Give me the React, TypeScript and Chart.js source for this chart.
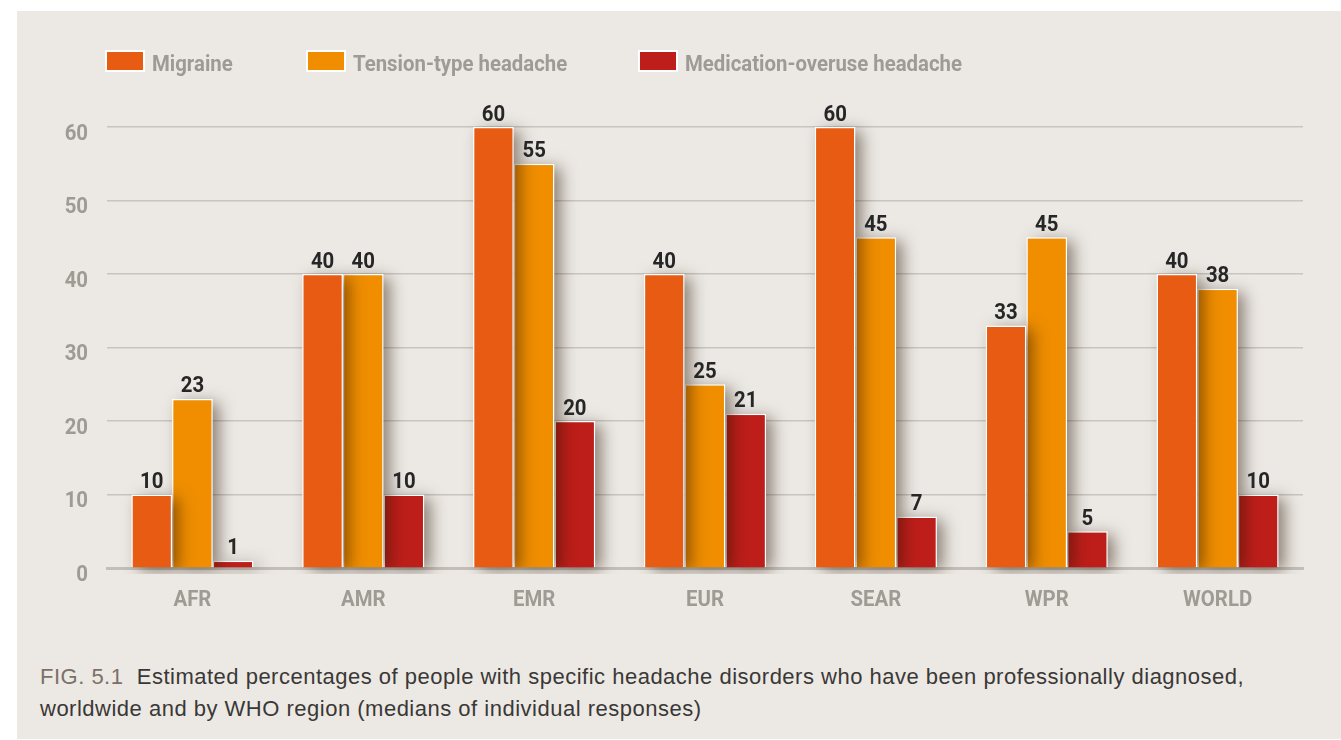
import React, { useEffect, useRef } from "react";
import { Chart, registerables } from "chart.js";

Chart.register(...registerables);

const categories = ["AFR", "AMR", "EMR", "EUR", "SEAR", "WPR", "WORLD"];
const seriesNames = ["Migraine", "Tension-type headache", "Medication-overuse headache"];
const migraine = [10, 40, 60, 40, 60, 33, 40];
const tension = [23, 40, 55, 25, 45, 45, 38];
const overuse = [1, 10, 20, 21, 7, 5, 10];
const seriesColors = ["#E85B12", "#F08E00", "#BE1E1A"];
const yTicks = [0, 10, 20, 30, 40, 50, 60];

const FONT = 'bold 22px Roboto, "Liberation Sans", sans-serif';
const LABEL_GRAY = "#9E9A94";

// condensed look: squeeze text horizontally so the widest legend label fits its reference width
function condenseFactor(ctx: CanvasRenderingContext2D) {
  ctx.save();
  ctx.font = FONT;
  const w = ctx.measureText("Medication-overuse headache").width;
  ctx.restore();
  return Math.min(1, 277 / w);
}

function drawText(ctx: CanvasRenderingContext2D, text: string, x: number, y: number, f: number) {
  ctx.save();
  ctx.translate(x, y);
  ctx.scale(f, 1);
  ctx.fillText(text, 0, 0);
  ctx.restore();
}

// soft drop shadow behind each bar (bars themselves are clipped by Chart.js, so draw it first)
const shadowPlugin = {
  id: "barShadow",
  beforeDatasetDraw(chart: any, args: any) {
    const ctx = chart.ctx as CanvasRenderingContext2D;
    const meta = args.meta;
    const color = chart.data.datasets[args.index].backgroundColor;
    ctx.save();
    ctx.beginPath();
    ctx.rect(chart.chartArea.left, 0, chart.chartArea.right - chart.chartArea.left + 40, chart.chartArea.bottom + 6);
    ctx.clip();
    ctx.shadowColor = "rgba(40,20,0,0.5)";
    ctx.shadowBlur = 16;
    ctx.shadowOffsetX = 7;
    ctx.shadowOffsetY = 3;
    ctx.fillStyle = color;
    meta.data.forEach((bar: any) => {
      const p = bar.getProps(["x", "y", "base", "width"], true);
      ctx.fillRect(p.x - p.width / 2 + 1, p.y + 1, p.width - 2, p.base - p.y - 1);
    });
    ctx.restore();
  },
};

const textPlugin = {
  id: "condensedText",
  afterDraw(chart: any) {
    const ctx = chart.ctx as CanvasRenderingContext2D;
    const f = condenseFactor(ctx);
    const area = chart.chartArea;
    ctx.save();
    ctx.font = FONT;

    // value labels
    ctx.fillStyle = "#262626";
    ctx.textAlign = "center";
    ctx.textBaseline = "bottom";
    chart.data.datasets.forEach((ds: any, i: number) => {
      const meta = chart.getDatasetMeta(i);
      meta.data.forEach((bar: any, j: number) => {
        drawText(ctx, String(ds.data[j]), bar.x, bar.y - 1, f);
      });
    });

    // y tick labels
    ctx.fillStyle = LABEL_GRAY;
    ctx.textAlign = "right";
    ctx.textBaseline = "middle";
    const ys = chart.scales.y;
    yTicks.forEach((v) => {
      drawText(ctx, String(v), area.left - 19, ys.getPixelForValue(v) + 7, f);
    });

    // x tick labels
    ctx.textAlign = "center";
    const xs = chart.scales.x;
    categories.forEach((c, i) => {
      drawText(ctx, c, xs.getPixelForTick(i), area.bottom + 32, f);
    });

    // legend
    const offsets = [0, 201, 533];
    const by = 41;
    ctx.textAlign = "left";
    chart.data.datasets.forEach((ds: any, i: number) => {
      const x = area.left + offsets[i];
      ctx.fillStyle = "#FFFFFF";
      ctx.fillRect(x - 2, by - 2, 40, 22);
      ctx.fillStyle = ds.backgroundColor;
      ctx.fillRect(x, by, 36, 18);
      ctx.fillStyle = LABEL_GRAY;
      drawText(ctx, ds.label, x + 45, by + 13, f);
    });
    ctx.restore();
  },
};

export default function App() {
  const ref = useRef<HTMLCanvasElement>(null);

  useEffect(() => {
    if (!ref.current) return;
    const series = [migraine, tension, overuse];
    const chart = new Chart(ref.current, {
      type: "bar",
      data: {
        labels: categories,
        datasets: series.map((d, i) => ({
          label: seriesNames[i],
          data: d,
          backgroundColor: seriesColors[i],
          borderColor: "#FFFFFF",
          borderWidth: 1.5,
          borderSkipped: "bottom",
          categoryPercentage: 0.715,
          barPercentage: 1,
        })),
      },
      options: {
        responsive: false,
        animation: false,
        events: [],
        layout: { padding: { left: 20, right: 38, top: 116, bottom: 10 } },
        plugins: {
          legend: { display: false },
          tooltip: { enabled: false },
        },
        scales: {
          x: {
            grid: { display: false, drawTicks: false },
            border: { display: true, color: "#C3BFB8", width: 3 },
            ticks: { display: false },
            afterFit(scale: any) {
              scale.height = 63;
            },
          },
          y: {
            min: 0,
            max: 60,
            afterBuildTicks(scale: any) {
              scale.ticks = yTicks.map((v) => ({ value: v }));
            },
            grid: { color: "#C8C4BE", lineWidth: 1.5, drawTicks: false },
            border: { display: false },
            ticks: { display: false },
            afterFit(scale: any) {
              scale.width = 70;
            },
          },
        },
      },
      plugins: [shadowPlugin, textPlugin],
    });
    return () => chart.destroy();
  }, []);

  return (
    <div style={{ position: "absolute", left: 0, top: 0, width: 1341, height: 740, background: "#FFFFFF", overflow: "hidden" }}>
      <div style={{ position: "absolute", left: 17, top: 11, width: 1324, height: 728, background: "#ECE9E4" }}>
        <canvas ref={ref} width={1324} height={630} style={{ position: "absolute", left: 0, top: 0, width: 1324, height: 630 }} />
        <div
          style={{
            position: "absolute",
            left: 23,
            top: 650,
            width: 1300,
            whiteSpace: "nowrap",
            fontFamily: '"Liberation Sans", Arial, sans-serif',
            fontSize: 22,
            letterSpacing: "0.5px",
            lineHeight: "32px",
            color: "#3A3836",
          }}
        >
          <span style={{ color: "#7B6F68" }}>FIG. 5.1</span>
          {"\u00a0 Estimated percentages of people with specific headache disorders who have been professionally diagnosed,"}
          <br />
          worldwide and by WHO region (medians of individual responses)
        </div>
      </div>
    </div>
  );
}
